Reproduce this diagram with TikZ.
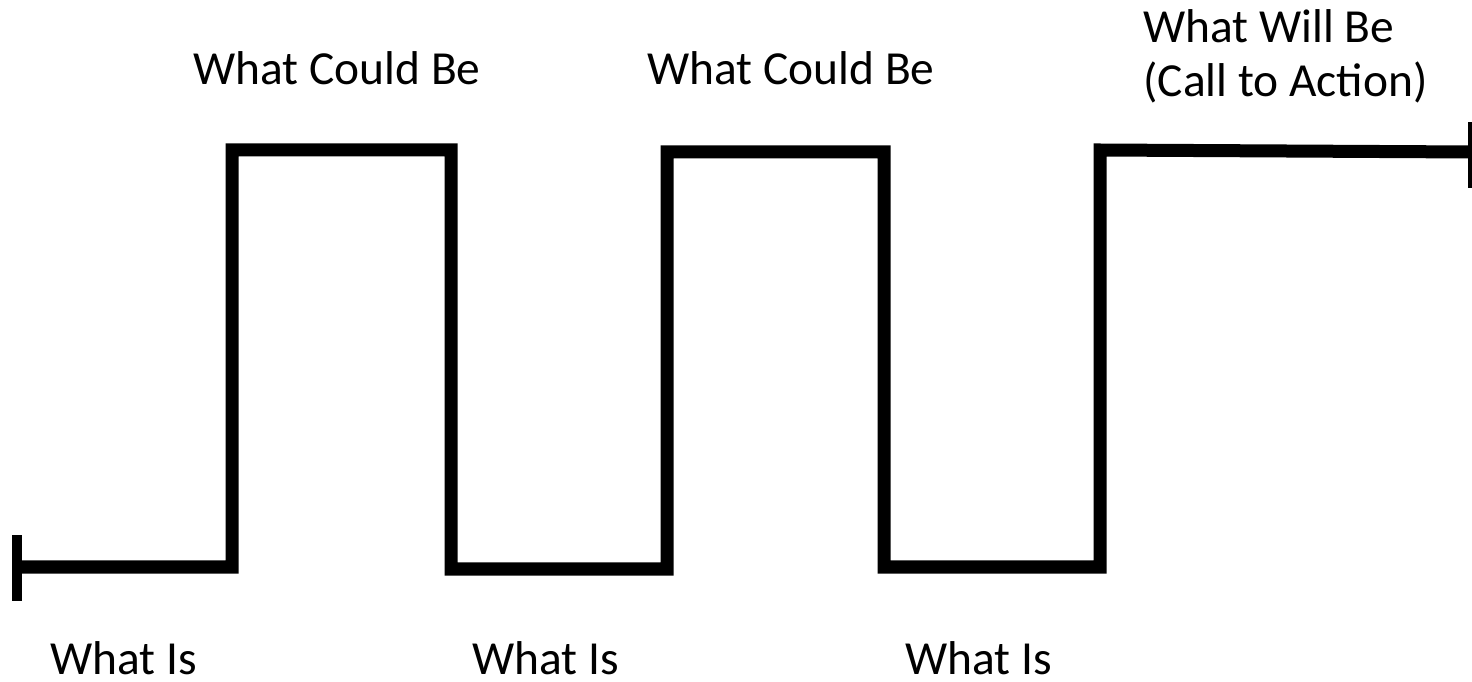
\documentclass[tikz,border=0pt]{standalone}
\usepackage{fontspec}
\setmainfont{Carlito}
\usepackage{tikz}

\tikzset{
  stairs/.style={line width=7.4pt, line join=miter},
  tick/.style={line width=5.6pt},
  lbl/.style={font=\fontsize{27}{31}\selectfont, inner sep=0pt, anchor=base west}
}

\begin{document}
\begin{tikzpicture}[x=0.02cm, y=-0.02cm]
  \useasboundingbox (0,0) rectangle (1472,682);
  % corners of the line
  \coordinate (s0) at (15,567);
  \coordinate (u1) at (232,567);
  \coordinate (t1) at (232,150);
  \coordinate (d1) at (451,150);
  \coordinate (b2) at (451,569);
  \coordinate (u2) at (667,569);
  \coordinate (t2) at (667,152);
  \coordinate (d2) at (884,152);
  \coordinate (b3) at (884,567);
  \coordinate (u3) at (1100,567);
  \coordinate (t3) at (1100,150);
  \coordinate (e0) at (1472,152);
  \draw[stairs] (s0) -- (u1) -- (t1) -- (d1) -- (b2) -- (u2) -- (t2) -- (d2)
    -- (b3) -- (u3) -- (t3) -- (e0);
  % end ticks
  \coordinate (lt1) at (17,535);
  \coordinate (lt2) at (17,601);
  \coordinate (rt1) at (1473,122);
  \coordinate (rt2) at (1473,188);
  \draw[tick] (lt1) -- (lt2);
  \draw[tick] (rt1) -- (rt2);
  % labels
  \node[lbl] (is1) at (50,674) {What Is};
  \node[lbl] (is2) at (472,674) {What Is};
  \node[lbl] (is3) at (905,674) {What Is};
  \node[lbl] (cb1) at (193,85) {What Could Be};
  \node[lbl] (cb2) at (647,85) {What Could Be};
  \node[lbl, align=left] (wb) at (1143,97) {What Will Be\\(Call to Action)};
\end{tikzpicture}
\end{document}
